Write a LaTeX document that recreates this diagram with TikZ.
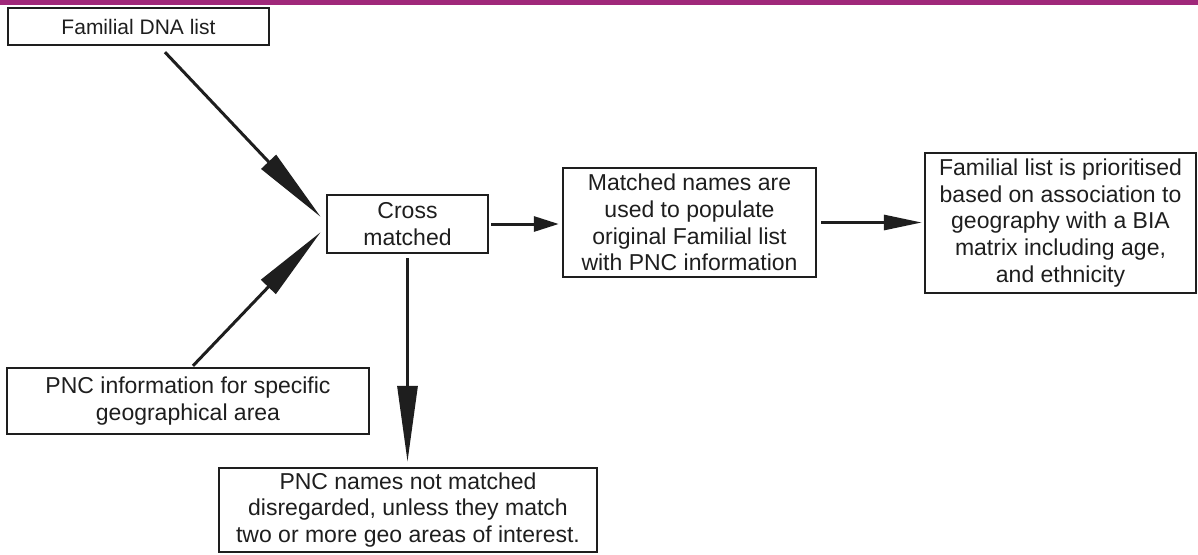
\documentclass[tikz,border=0pt]{standalone}
\usepackage{fontspec}
\setmainfont{Liberation Sans}
\usetikzlibrary{arrows.meta,calc}
\definecolor{barpurple}{RGB}{160,40,122}
\definecolor{ink}{RGB}{30,30,30}
\tikzset{
  box/.style={draw=ink, line width=2.4pt, inner sep=0pt, align=center, text=ink,
    font=\fontsize{23}{26.6}\selectfont},
  arr/.style={draw=ink, line width=3pt},
  bigtip/.style={-{Triangle[length=76pt,width=20pt]}},
  smalltip/.style={-{Triangle[length=25pt,width=15pt]}},
  midtip/.style={-{Triangle[length=38pt,width=15pt]}},
}
\begin{document}
\begin{tikzpicture}[x=1pt,y=-1pt]
\useasboundingbox (0,0) rectangle (1198,554);
\fill[barpurple] (0,0) rectangle (1198,5);

\node[box, minimum width=261pt, minimum height=37pt, font=\fontsize{21}{25}\selectfont] (fam) at (138.5,26.5) {Familial DNA list};
\node[box, minimum width=161pt, minimum height=58pt] (cross) at (407.5,224) {Cross\\matched};
\node[box, minimum width=362pt, minimum height=66pt] (pncinfo) at (188,401) {PNC information for specific\\geographical area};
\node[box, minimum width=378pt, minimum height=84pt] (pncnames) at (408,510) {PNC names not matched\\disregarded, unless they match\\two or more geo areas of interest.};
\node[box, minimum width=253pt, minimum height=109pt] (matched) at (689.5,222.5) {Matched names are\\used to populate\\original Familial list\\with PNC information};
\node[box, minimum width=271pt, minimum height=140pt] (final) at (1060.5,223) {Familial list is prioritised\\based on association to\\geography with a BIA\\matrix including age,\\and ethnicity};

\draw[arr, bigtip] ([xshift=26.5pt,yshift=-6pt]fam.south) -- ([xshift=-5pt,yshift=7pt]cross.west);
\draw[arr, bigtip] ([xshift=5pt,yshift=1pt]pncinfo.north) -- ([xshift=-5pt,yshift=-8pt]cross.west);
\draw[arr, bigtip] ([yshift=-4pt]cross.south) -- ([yshift=5pt]cross.south |- pncnames.north);
\draw[arr, smalltip] ([xshift=2pt]cross.east) -- ([xshift=-3pt]cross.east -| matched.west);
\draw[arr, midtip] ([xshift=4pt]matched.east) -- ([xshift=-2pt]matched.east -| final.west);
\end{tikzpicture}
\end{document}
